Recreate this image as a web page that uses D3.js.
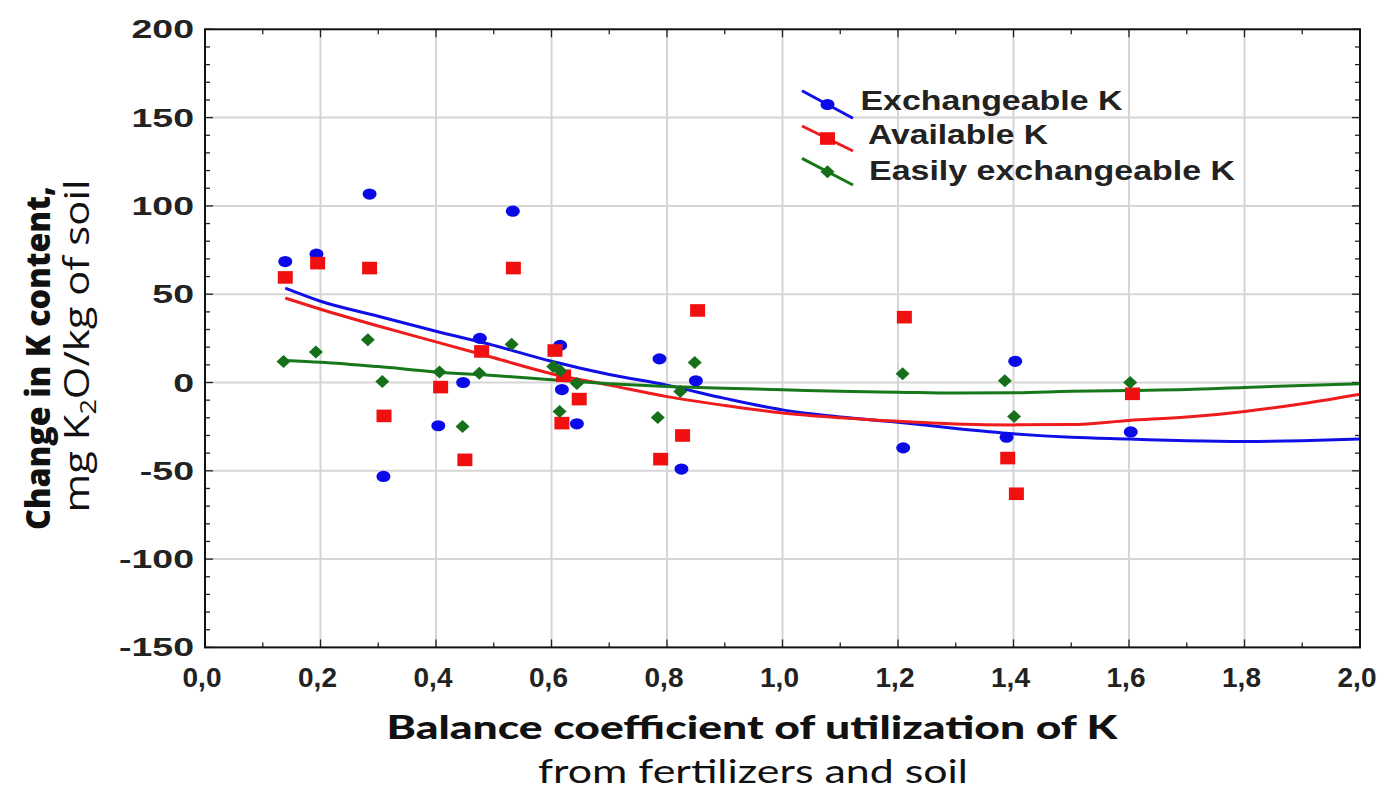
<!DOCTYPE html>
<html><head><meta charset="utf-8">
<script src="https://cdn.jsdelivr.net/npm/d3@7"></script>
<style>body{margin:0;background:#fff}svg{display:block}</style>
</head><body><svg id="c" width="1387" height="790"></svg>
<script>
// ---- data ----
const xTickValues = [0,0.2,0.4,0.6,0.8,1.0,1.2,1.4,1.6,1.8,2.0];
const xTickLabels = ["0,0","0,2","0,4","0,6","0,8","1,0","1,2","1,4","1,6","1,8","2,0"];
const yTickValues = [200,150,100,50,0,-50,-100,-150];
const yTickLabels = ["200","150","100","50","0","-50","-100","-150"];

const exchangeableX = [0.139,0.193,0.285,0.309,0.404,0.447,0.476,0.533,0.615,0.618,0.644,0.787,0.825,0.850,1.209,1.388,1.403,1.603];
const exchangeableY = [68.5,72.7,106.7,-53.2,-24.5,0,25,97,21,-4,-23.4,13.4,-49,1,-37,-31,12,-28];

const availableX = [0.139,0.195,0.285,0.310,0.408,0.450,0.479,0.534,0.606,0.621,0.618,0.648,0.789,0.827,0.853,1.211,1.390,1.405,1.606];
const availableY = [59.5,67.6,64.8,-18.9,-2.6,-43.8,17.6,64.8,18.1,3.8,-23,-9.4,-43.4,-30,40.8,37,-42.8,-63,-6.4];

const easilyX = [0.136,0.192,0.282,0.307,0.406,0.446,0.475,0.531,0.603,0.615,0.614,0.644,0.784,0.823,0.848,1.208,1.385,1.401,1.602];
const easilyY = [11.9,17.2,24.2,0.6,5.9,-24.9,5.3,21.7,9.1,6.6,-16.4,-0.5,-19.8,-5.1,11.3,4.9,1,-19.2,0];

// fitted curves
const fitX = [0.139,0.2,0.3,0.4,0.5,0.6,0.7,0.8,0.9,1.0,1.1,1.2,1.3,1.4,1.5,1.6,1.7,1.8,1.9,2.0];
const exchangeableFit = [53.4,46,37.5,29,21,12,4.5,-1.5,-9,-15.5,-19.5,-22.5,-26,-29,-31,-32,-33,-33.4,-33,-32];
const availableFit = [47.8,41.5,32,23,14,5,-1.5,-8,-13,-17.3,-20,-22,-23.5,-24,-23.8,-21.5,-19.5,-16.4,-12,-6.6];
const easilyFit = [12.5,11.5,9,6,4,1.5,-0.7,-2.3,-3.3,-4.1,-5,-5.5,-6,-5.8,-5,-4.5,-4,-2.8,-1.7,-0.7];

const seriesNames = ["Exchangeable K","Available K","Easily exchangeable K"];
const seriesColors = ["#1010e6","#ee1c1c","#17781a"];
const markerColors = ["#0a0ae8","#f01010","#16701a"];

// ---- drawing ----
const svg = d3.select("#c");
const x = d3.scaleLinear().domain([0,2]).range([205,1360]);
const y = d3.scaleLinear().domain([-150,200]).range([647.4,29.3]);

// grid
const grid = svg.append("g").attr("stroke","#d6d6d6").attr("stroke-width",2);
xTickValues.slice(1,-1).forEach(v=>grid.append("line").attr("x1",x(v)).attr("x2",x(v)).attr("y1",y(200)).attr("y2",y(-150)));
yTickValues.slice(1,-1).forEach(v=>grid.append("line").attr("y1",y(v)).attr("y2",y(v)).attr("x1",x(0)).attr("x2",x(2)));

// ticks (inward, all four sides)
const tk = svg.append("g").attr("stroke","#222").attr("stroke-width",1.3);
d3.range(0,2.0001,0.1).forEach((v,i)=>{
  const L = i%2===0 ? 8 : 5;
  tk.append("line").attr("x1",x(v)).attr("x2",x(v)).attr("y1",y(-150)).attr("y2",y(-150)-L);
  tk.append("line").attr("x1",x(v)).attr("x2",x(v)).attr("y1",y(200)).attr("y2",y(200)+L);
});
d3.range(-150,200.001,10).forEach(v=>{
  const L = (v%50===0) ? 8 : 5;
  tk.append("line").attr("y1",y(v)).attr("y2",y(v)).attr("x1",x(0)).attr("x2",x(0)+L);
  tk.append("line").attr("y1",y(v)).attr("y2",y(v)).attr("x1",x(2)).attr("x2",x(2)-L);
});

// fitted curves
const fits = [exchangeableFit, availableFit, easilyFit];
const line = d3.line().x(d=>x(d[0])).y(d=>y(d[1])).curve(d3.curveMonotoneX);
fits.forEach((f,i)=>{
  svg.append("path").datum(fitX.map((v,j)=>[v,f[j]]))
    .attr("d",line).attr("fill","none").attr("stroke",seriesColors[i]).attr("stroke-width",3);
});

// markers
function marker(g, kind, cx, cy, color){
  if(kind===0) g.append("ellipse").attr("cx",cx).attr("cy",cy).attr("rx",7).attr("ry",5.6).attr("fill",color);
  else if(kind===1) g.append("rect").attr("x",cx-7.5).attr("y",cy-6.3).attr("width",15).attr("height",12.6).attr("fill",color);
  else g.append("path").attr("d",`M${cx-7},${cy}L${cx},${cy-6.5}L${cx+7},${cy}L${cx},${cy+6.5}Z`).attr("fill",color);
}
const pts = svg.append("g");
exchangeableX.forEach((v,i)=>marker(pts,0,x(v),y(exchangeableY[i]),markerColors[0]));
availableX.forEach((v,i)=>marker(pts,1,x(v),y(availableY[i]),markerColors[1]));
easilyX.forEach((v,i)=>marker(pts,2,x(v),y(easilyY[i]),markerColors[2]));

// frame
svg.append("rect").attr("x",x(0)).attr("y",y(200)).attr("width",x(2)-x(0)).attr("height",y(-150)-y(200))
  .attr("fill","none").attr("stroke","#111").attr("stroke-width",2);

// tick labels
yTickValues.forEach((v,i)=>{
  svg.append("text").attr("transform",`translate(194,${y(v)+9}) scale(1.5,1)`)
    .attr("text-anchor","end").attr("font-family","Liberation Sans, Arial, sans-serif")
    .attr("font-weight","bold").attr("font-size",25).attr("fill","#222").text(yTickLabels[i]);
});
xTickValues.forEach((v,i)=>{
  svg.append("text").attr("transform",`translate(${x(v)-3},687) scale(1.0,1)`)
    .attr("text-anchor","middle").attr("font-family","Liberation Sans, Arial, sans-serif")
    .attr("font-weight","bold").attr("font-size",28).attr("fill","#222").text(xTickLabels[i]);
});

// axis titles
svg.append("text").attr("x",752).attr("y",739).attr("text-anchor","middle")
  .attr("font-family","Lato, Open Sans, sans-serif").attr("font-weight","900").attr("font-size",33)
  .attr("textLength",731).attr("lengthAdjust","spacingAndGlyphs").attr("fill","#111")
  .text("Balance coefficient of utilization of K");
svg.append("text").attr("x",753).attr("y",783).attr("text-anchor","middle")
  .attr("font-family","Lato, Open Sans, sans-serif").attr("font-size",33)
  .attr("textLength",430).attr("lengthAdjust","spacingAndGlyphs").attr("fill","#111")
  .text("from fertilizers and soil");

svg.append("text").attr("transform","translate(50,358) rotate(-90)").attr("text-anchor","middle")
  .attr("font-family","Open Sans, sans-serif").attr("font-weight","800").attr("font-size",34)
  .attr("textLength",344).attr("lengthAdjust","spacingAndGlyphs").attr("fill","#111")
  .text("Change in K content,");
const t2 = svg.append("text").attr("transform","translate(89,346) rotate(-90)").attr("text-anchor","middle")
  .attr("font-family","Open Sans, sans-serif").attr("font-size",34)
  .attr("textLength",333).attr("lengthAdjust","spacingAndGlyphs").attr("fill","#111");
t2.append("tspan").text("mg K");
t2.append("tspan").attr("font-size",22).attr("dy",7).text("2");
t2.append("tspan").attr("dy",-7).text("O/kg of soil");

// legend
const legY = [[90.7,118.3,110],[126,151,143.5],[158.3,185,180]];
const legTextX = [860.5,868,869];
const legLen = [262,180,366];
seriesNames.forEach((name,i)=>{
  const [a,b,base] = legY[i];
  svg.append("line").attr("x1",802).attr("y1",a).attr("x2",853).attr("y2",b)
    .attr("stroke",seriesColors[i]).attr("stroke-width",3);
  marker(svg,i,827.5,(a+b)/2,markerColors[i]);
  svg.append("text").attr("x",legTextX[i]).attr("y",base)
    .attr("font-family","Liberation Sans, Arial, sans-serif").attr("font-weight","bold").attr("font-size",28)
    .attr("textLength",legLen[i]).attr("lengthAdjust","spacingAndGlyphs").attr("fill","#222").text(name);
});
</script></body></html>
